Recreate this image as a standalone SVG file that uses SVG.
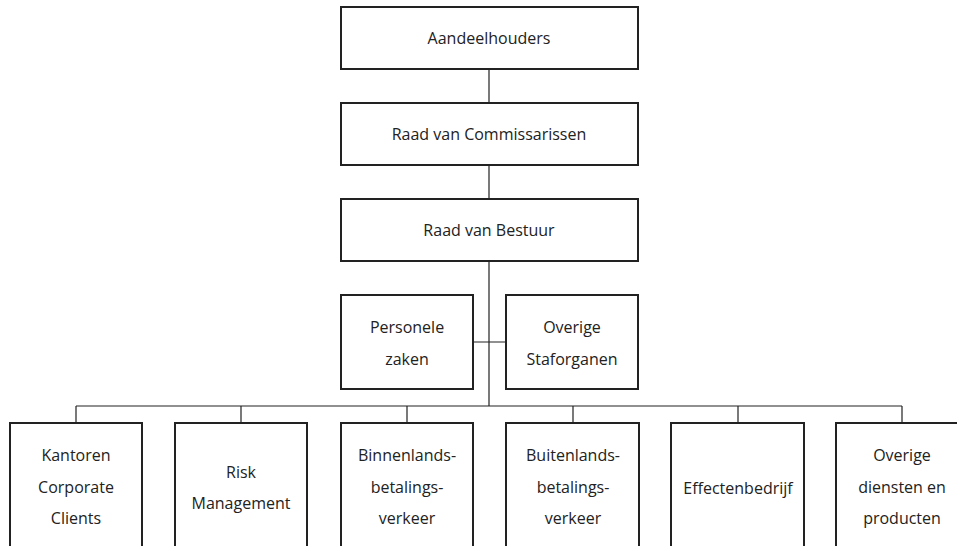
<svg xmlns="http://www.w3.org/2000/svg" width="957" height="546" viewBox="0 0 957 546">
<style>
.box{fill:#fff;stroke:#222;stroke-width:2}
.ln{fill:none;stroke:#222;stroke-width:1.2}
text{font-family:"Open Sans","Noto Sans",sans-serif;font-size:16px;fill:#222;text-anchor:middle}
</style>
<rect width="957" height="546" fill="#fff"/>
<g id="connectors">
<path class="ln" d="M489 69V103M489 165V199M489 261V406M473 342H506M76 406H902M76 406V423M241 406V423M407 406V423M573 406V423M738 406V423M902 406V423"/>
</g>
<g id="aandeelhouders"><rect class="box" x="341" y="7" width="297" height="62"/><text x="489" y="44">Aandeelhouders</text></g>
<g id="rvc"><rect class="box" x="341" y="103" width="297" height="62"/><text x="489" y="140">Raad van Commissarissen</text></g>
<g id="rvb"><rect class="box" x="341" y="199" width="297" height="62"/><text x="489" y="236">Raad van Bestuur</text></g>
<g id="personele"><rect class="box" x="341" y="295" width="132" height="94"/><text x="407" y="333">Personele</text><text x="407" y="365">zaken</text></g>
<g id="staf"><rect class="box" x="506" y="295" width="132" height="94"/><text x="572" y="333">Overige</text><text x="572" y="365">Staforganen</text></g>
<g id="kantoren"><rect class="box" x="10" y="423" width="132" height="140"/><text x="76" y="461">Kantoren</text><text x="76" y="493">Corporate</text><text x="76" y="524">Clients</text></g>
<g id="risk"><rect class="box" x="175" y="423" width="132" height="140"/><text x="241" y="478">Risk</text><text x="241" y="509">Management</text></g>
<g id="binnen"><rect class="box" x="341" y="423" width="132" height="140"/><text x="407" y="461">Binnenlands-</text><text x="407" y="493">betalings-</text><text x="407" y="524">verkeer</text></g>
<g id="buiten"><rect class="box" x="506" y="423" width="133" height="140"/><text x="573" y="461">Buitenlands-</text><text x="573" y="493">betalings-</text><text x="573" y="524">verkeer</text></g>
<g id="effecten"><rect class="box" x="671" y="423" width="133" height="140"/><text x="738" y="494">Effectenbedrijf</text></g>
<g id="overige"><rect class="box" x="836" y="423" width="132" height="140"/><text x="902" y="461">Overige</text><text x="902" y="493">diensten en</text><text x="902" y="524">producten</text></g>
</svg>
